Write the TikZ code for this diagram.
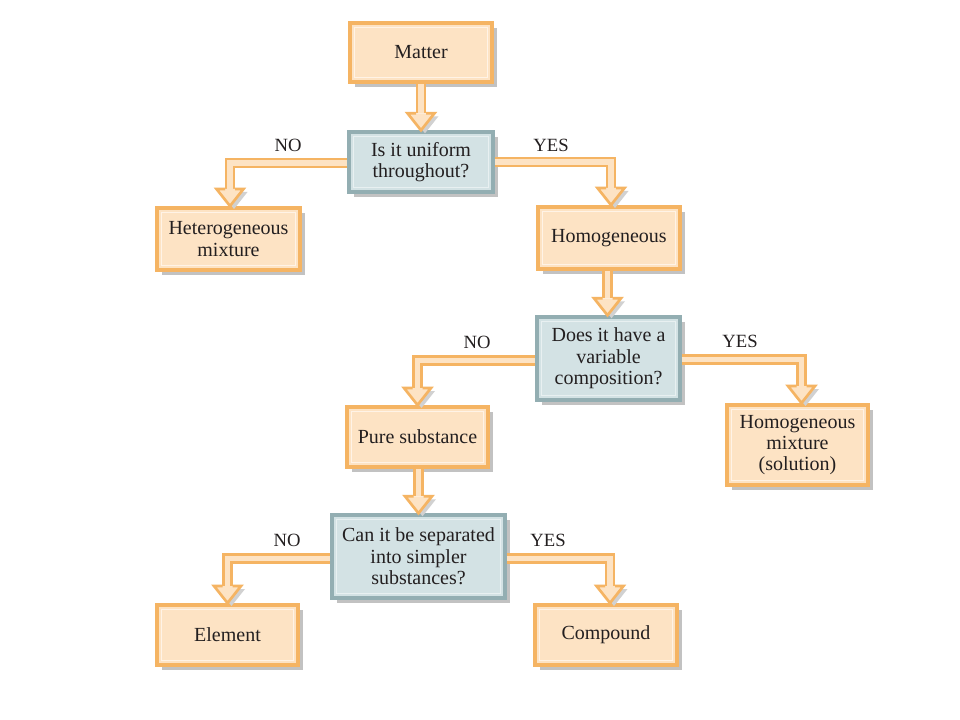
\documentclass[tikz,border=0pt]{standalone}
\usepackage{fontspec}
\setmainfont{Liberation Serif}
\usetikzlibrary{calc,shadows}
\definecolor{orline}{HTML}{F5B463}
\definecolor{peach}{HTML}{FDE3C4}
\definecolor{paleor}{HTML}{FFF3E6}
\definecolor{blline}{HTML}{93AEB2}
\definecolor{blfill}{HTML}{D3E2E4}
\definecolor{palebl}{HTML}{E8F0F1}
\definecolor{txt}{HTML}{231F20}
\tikzset{
  x=0.75pt, y=-0.75pt,
  boxbase/.style={rectangle, align=center, text=txt, inner sep=2pt,
    font=\fontsize{15}{16}\selectfont,
    drop shadow={shadow xshift=4pt, shadow yshift=-4pt, fill=black!28, opacity=0.85}},
  orbox/.style={boxbase, draw=orline, fill=peach, line width=3pt,
    path picture={\draw[paleor, line width=0.8pt]
      ([shift={(3.6pt,-3.6pt)}]path picture bounding box.north west) rectangle
      ([shift={(-3.6pt,3.6pt)}]path picture bounding box.south east);}},
  blbox/.style={boxbase, draw=blline, fill=blfill, line width=2.6pt,
    path picture={\draw[palebl, line width=0.8pt]
      ([shift={(3.4pt,-3.4pt)}]path picture bounding box.north west) rectangle
      ([shift={(-3.4pt,3.4pt)}]path picture bounding box.south east);}},
  sz/.style 2 args={minimum width=#1*0.75pt, minimum height=#2*0.75pt},
  shaft/.style={draw=orline, line width=2pt, double=peach, double distance=4.2pt},
  tipfill/.style={fill=peach},
  tipshadow/.style={fill=black!18},
  tipline/.style={draw=orline, line width=2pt, line join=miter},
  lbl/.style={text=txt, font=\fontsize{14}{15}\selectfont, inner sep=0pt},
}
\newcommand\mytip[1]{%
  \fill[tipshadow] ($(#1)+(-9.5,-14)$) -- ($(#1)+(4,3)$) -- ($(#1)+(17.5,-14)$) -- cycle;
  \fill[tipfill] ($(#1)+(-13.5,-17)$) -- (#1) -- ($(#1)+(13.5,-17)$) -- cycle;
  \draw[tipline] ($(#1)+(-5,-17)$) -- ($(#1)+(-13.5,-17)$) -- (#1) -- ($(#1)+(13.5,-17)$) -- ($(#1)+(5,-17)$);}
\begin{document}
\begin{tikzpicture}
\useasboundingbox (0,0) rectangle (960,720);
\fill[white] (0,0) rectangle (960,720);

% nodes
\node[orbox, sz={142}{59}] (matter) at (421,52.5) {Matter};
\node[blbox, sz={144}{60}] (q1) at (421,162) {Is it uniform\\throughout?};
\node[orbox, sz={143}{62}] (het) at (228.5,239) {Heterogeneous\\mixture};
\node[orbox, sz={142}{62}] (homog) at (609,238) {Homogeneous};
\node[blbox, sz={143}{83}] (q2) at (608.5,358.5) {Does it have a\\variable\\composition?};
\node[orbox, sz={141}{80}] (sol) at (797.5,445) {Homogeneous\\mixture\\(solution)};
\node[orbox, sz={141}{60}] (pure) at (417.5,437) {Pure substance};
\node[blbox, sz={173}{83}] (q3) at (418.5,556.5) {Can it be separated\\into simpler\\substances?};
\node[orbox, sz={141}{60}] (elem) at (227.5,635) {Element};
\node[orbox, sz={142}{60}] (comp) at (606,635) {Compound};

% coordinates for arrow tips
\coordinate (t1) at (q1.north);
\coordinate (t2) at ($(het.north)+(1.5,0)$);
\coordinate (t3) at ($(homog.north)+(2,0)$);
\coordinate (t4) at ($(q2.north)+(-1,0)$);
\coordinate (t5) at (pure.north);
\coordinate (t6) at ($(sol.north)+(4,0)$);
\coordinate (t7) at (q3.north);
\coordinate (t8) at (elem.north);
\coordinate (t9) at ($(comp.north)+(4,0)$);

% connectors
\draw[shaft] (matter.south -| t1) -- ($(t1)+(0,-17)$);
\draw[shaft] ($(q1.west)+(0,1)$) -| ($(t2)+(0,-17)$);
\draw[shaft] (q1.east) -| ($(t3)+(0,-17)$);
\draw[shaft] (homog.south -| t4) -- ($(t4)+(0,-17)$);
\draw[shaft] ($(q2.west)+(0,2)$) -| ($(t5)+(0,-17)$);
\draw[shaft] ($(q2.east)+(0,1)$) -| ($(t6)+(0,-17)$);
\draw[shaft] (pure.south -| t7) -- ($(t7)+(0,-17)$);
\draw[shaft] ($(q3.west)+(0,2)$) -| ($(t8)+(0,-17)$);
\draw[shaft] ($(q3.east)+(0,2)$) -| ($(t9)+(0,-17)$);
\mytip{t1}\mytip{t2}\mytip{t3}\mytip{t4}\mytip{t5}
\mytip{t6}\mytip{t7}\mytip{t8}\mytip{t9}

% labels
\node[lbl] (no1) at (288,145) {NO};
\node[lbl] (yes1) at (551,145) {YES};
\node[lbl] (no2) at (477,342) {NO};
\node[lbl] (yes2) at (740,341) {YES};
\node[lbl] (no3) at (287,540) {NO};
\node[lbl] (yes3) at (548,540) {YES};
\end{tikzpicture}
\end{document}
